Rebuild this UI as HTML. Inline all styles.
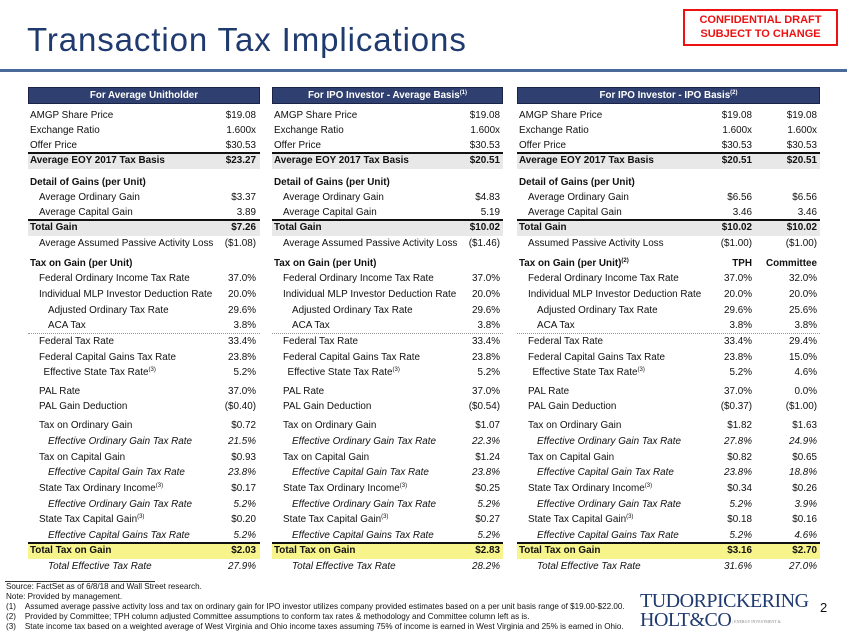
<!DOCTYPE html>
<html><head><meta charset="utf-8"><style>
body{margin:0;width:847px;height:635px;position:relative;background:#fff;font-family:"Liberation Sans",sans-serif;color:#111;overflow:hidden}
.a{position:absolute;white-space:nowrap}
.t{font-size:9.9px;line-height:14px}
.hdr{position:absolute;height:15px;background:#2f3f6f;border:1px solid #1a2447;color:#fff;font-size:9.8px;font-weight:bold;text-align:center;line-height:15px}
.band{position:absolute;height:15px;background:#e8e8e8;border-top:2px solid #111}
.yband{position:absolute;height:15px;background:#f7f48c;border-top:2px solid #111}
.dot{position:absolute;border-top:1px dotted #999;height:0}
sup{font-size:6px;line-height:0;vertical-align:4px}
.foot{position:absolute;font-size:8.1px;left:6px;white-space:nowrap}
</style></head><body>
<div class="a" style="left:27px;top:21px;font-size:33px;letter-spacing:0.9px;color:#1f3a6e">Transaction Tax Implications</div>
<div class="a" style="left:683px;top:9px;width:151px;height:31px;border:2px solid #e11;color:#e11;font-weight:bold;font-size:11px;text-align:center;line-height:14px;padding-top:2px">CONFIDENTIAL DRAFT<br>SUBJECT TO CHANGE</div>
<div class="a" style="left:0;top:69px;width:847px;height:3px;background:#4a6a9a"></div>
<div id="tables"></div>
<div class="a" style="left:5px;top:581px;width:150px;border-top:1px solid #333"></div>
<div class="foot" style="top:582px">Source: FactSet as of 6/8/18 and Wall Street research.</div>
<div class="foot" style="top:592px">Note: Provided by management.</div>
<div class="foot" style="top:602px">(1)&nbsp;&nbsp;&nbsp;&nbsp;Assumed average passive activity loss and tax on ordinary gain for IPO investor utilizes company provided estimates based on a per unit basis range of $19.00-$22.00.</div>
<div class="foot" style="top:612px">(2)&nbsp;&nbsp;&nbsp;&nbsp;Provided by Committee; TPH column adjusted Committee assumptions to conform tax rates &amp; methodology and Committee column left as is.</div>
<div class="foot" style="top:622px">(3)&nbsp;&nbsp;&nbsp;&nbsp;State income tax based on a weighted average of West Virginia and Ohio income taxes assuming 75% of income is earned in West Virginia and 25% is earned in Ohio.</div>
<div class="a" style="left:640px;top:592px;font-family:'Liberation Serif',serif;color:#1f3a6e;font-size:20px;line-height:19px;letter-spacing:-0.5px">TUDORPICKERING<br>HOLT&amp;CO<span style="font-size:4px;color:#888;letter-spacing:0;vertical-align:middle"> | ENERGY INVESTMENT &amp;</span></div>
<div class="a" style="left:820px;top:600px;font-size:13px">2</div>
<script>
const tables=[
 {x:28,w:232,title:'For Average Unitholder',cols:[256]},
 {x:272,w:231,title:'For IPO Investor - Average Basis<sup>(1)</sup>',cols:[500]},
 {x:517,w:303,title:'For IPO Investor - IPO Basis<sup>(2)</sup>',cols:[752,817]}
];
const rowLabels=[
[116,'AMGP Share Price',0,''],[131,'Exchange Ratio',0,''],[146,'Offer Price',0,''],
[161,'Average EOY 2017 Tax Basis',0,'band'],[183,'Detail of Gains (per Unit)',0,'b'],
[198,'Average Ordinary Gain',1,''],[213,'Average Capital Gain',1,''],[228,'Total Gain',0,'band'],
[244,'PASSIVE',1,''],[264,'Tax on Gain (per Unit)',0,'b'],
[279,'Federal Ordinary Income Tax Rate',1,''],[295,'Individual MLP Investor Deduction Rate',1,''],
[311,'Adjusted Ordinary Tax Rate',2,''],[326,'ACA Tax',2,''],
[342,'Federal Tax Rate',1,'dot'],[358,'Federal Capital Gains Tax Rate',1,''],
[373,'Effective State Tax Rate<sup>(3)</sup>',1.5,''],[392,'PAL Rate',1,''],[407,'PAL Gain Deduction',1,''],
[426,'Tax on Ordinary Gain',1,''],[442,'Effective Ordinary Gain Tax Rate',2,'i'],
[458,'Tax on Capital Gain',1,''],[473,'Effective Capital Gain Tax Rate',2,'i'],
[489,'State Tax Ordinary Income<sup>(3)</sup>',1,''],[505,'Effective Ordinary Gain Tax Rate',2,'i'],
[520,'State Tax Capital Gain<sup>(3)</sup>',1,''],[536,'Effective Capital Gains Tax Rate',2,'i'],
[551,'Total Tax on Gain',0,'yband'],[567,'Total Effective Tax Rate',2,'i']
];
const valsAvg=['$19.08','1.600x','$30.53','$23.27','','$3.37','3.89','$7.26','($1.08)','','37.0%','20.0%','29.6%','3.8%','33.4%','23.8%','5.2%','37.0%','($0.40)','$0.72','21.5%','$0.93','23.8%','$0.17','5.2%','$0.20','5.2%','$2.03','27.9%'];
const valsIpoAvg=['$19.08','1.600x','$30.53','$20.51','','$4.83','5.19','$10.02','($1.46)','','37.0%','20.0%','29.6%','3.8%','33.4%','23.8%','5.2%','37.0%','($0.54)','$1.07','22.3%','$1.24','23.8%','$0.25','5.2%','$0.27','5.2%','$2.83','28.2%'];
const valsTph=['$19.08','1.600x','$30.53','$20.51','','$6.56','3.46','$10.02','($1.00)','TPH','37.0%','20.0%','29.6%','3.8%','33.4%','23.8%','5.2%','37.0%','($0.37)','$1.82','27.8%','$0.82','23.8%','$0.34','5.2%','$0.18','5.2%','$3.16','31.6%'];
const valsCom=['$19.08','1.600x','$30.53','$20.51','','$6.56','3.46','$10.02','($1.00)','Committee','32.0%','20.0%','25.6%','3.8%','29.4%','15.0%','4.6%','0.0%','($1.00)','$1.63','24.9%','$0.65','18.8%','$0.26','3.9%','$0.16','4.6%','$2.70','27.0%'];
const series=[[valsAvg],[valsIpoAvg],[valsTph,valsCom]];
const root=document.getElementById('tables');
tables.forEach((tb,ti)=>{
 const h=document.createElement('div');h.className='hdr';
 
 
 h.style.left=tb.x+'px';h.style.top='87px';h.style.width=(tb.w-2)+'px';h.innerHTML=tb.title;root.appendChild(h);
 rowLabels.forEach((r,ri)=>{
  const [y,lab0,ind,st]=r;
  let lab=lab0;
  if(lab==='PASSIVE') lab=ti==2?'Assumed Passive Activity Loss':'Average Assumed Passive Activity Loss';
  if(ri===9&&ti===2) lab='Tax on Gain (per Unit)<sup>(2)</sup>';
  const ix=(ti===2&&ri===8)?1:ind;
  if(st==='band'||st==='yband'){const b=document.createElement('div');b.className=st;
   
   
   b.style.left=tb.x+'px';b.style.top=(y-9)+'px';b.style.width=tb.w+'px';root.appendChild(b);}
  if(st==='dot'){const d=document.createElement('div');d.className='dot';
   
   
   d.style.left=tb.x+'px';d.style.top=(y-9)+'px';d.style.width=tb.w+'px';root.appendChild(d);}
  const bold=(st==='band'||st==='yband'||st==='b');
  const l=document.createElement('div');l.className='a t';
  
  
  l.style.left=(tb.x+2+ix*9)+'px';l.style.top=(y-7)+'px';
  if(bold)l.style.fontWeight='bold';if(st==='i')l.style.fontStyle='italic';
  l.innerHTML=lab;root.appendChild(l);
  tb.cols.forEach((cx,ci)=>{const v=series[ti][ci][ri];if(!v)return;
   const e=document.createElement('div');e.className='a t';
   
   
   e.style.right=(847-cx)+'px';e.style.top=(y-7)+'px';
   if(bold||ri===9)e.style.fontWeight='bold';if(st==='i')e.style.fontStyle='italic';
   e.textContent=v;root.appendChild(e);});
 });
});
</script>
</body></html>
